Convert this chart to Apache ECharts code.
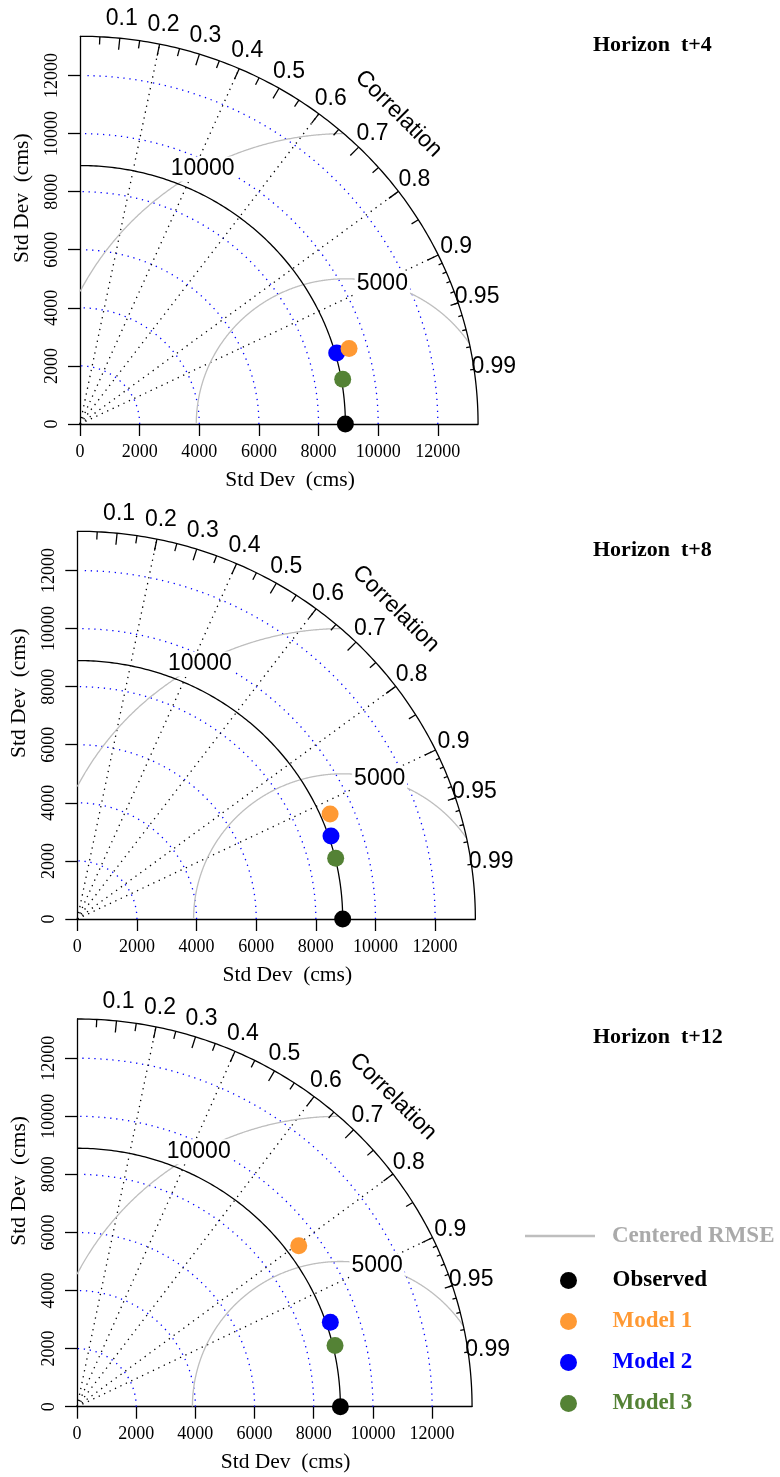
<!DOCTYPE html>
<html><head><meta charset="utf-8">
<script src="https://cdn.jsdelivr.net/npm/echarts@6/dist/echarts.min.js"></script>
<style>html,body{margin:0;padding:0;background:#fff}#c{width:780px;height:1477px}</style>
</head><body><div id="c"></div>
<script>
// ---------------- data ----------------
const panelTitles = ['Horizon  t+4', 'Horizon  t+8', 'Horizon  t+12'];
const modelNames = ['Model 1', 'Model 2', 'Model 3'];
const refSD = 8900;                       // observed standard deviation (cms)
const sdT4   = [9390, 8950, 8945];        // model std dev, horizon t+4
const corrT4 = [0.961, 0.962, 0.985];     // model correlation, horizon t+4
const sdT8   = [9215, 8975, 8915];
const corrT8 = [0.920, 0.948, 0.972];
const sdT12  = [9320, 9040, 8970];
const corrT12 = [0.804, 0.947, 0.972];
const sdTicks = [0, 2000, 4000, 6000, 8000, 10000, 12000];
const sdArcs = [2000, 4000, 6000, 8000, 10000, 12000];
const corrLabels = [0.1, 0.2, 0.3, 0.4, 0.5, 0.6, 0.7, 0.8, 0.9, 0.95, 0.99];
const bigTicks = [0.1, 0.2, 0.3, 0.4, 0.5, 0.6, 0.7, 0.8, 0.9];
const medTicks = [0.05, 0.15, 0.25, 0.35, 0.45, 0.55, 0.65, 0.75, 0.85, 0.95];
const smallTicks = [0.91, 0.92, 0.93, 0.94, 0.95, 0.96, 0.97, 0.98, 0.99];
const corrLines = [0.2, 0.4, 0.6, 0.8, 0.9];
const rmseLevels = [5000, 10000];
const panelSD = [sdT4, sdT8, sdT12];
const panelCorr = [corrT4, corrT8, corrT12];

// ---------------- style / layout ----------------
const maxSD = 1.5 * refSD;
const FS = '"Liberation Serif","Times New Roman",serif';
const FA = '"Liberation Sans",Arial,Helvetica,sans-serif';
const modelColors = ['#ff9933', '#0000ff', '#548235'];
const kx = 0.029817, ky = 0.029042;       // px per unit
const layout = [
  {ox: 80, oy: 424, ty: 45},
  {ox: 77.3, oy: 919, ty: 550},
  {ox: 74, oy: 1406.7, ty: 1037}
];

function polyArc(api, cx, r, a0, a1, step, filter) {
  const pts = [];
  for (let a = a0; a <= a1 + 1e-9; a += step) {
    const x = cx + r * Math.cos(a), y = r * Math.sin(a);
    if (!filter || filter(x, y)) pts.push(api.coord([x, y]));
  }
  return pts;
}

function frameBack(params, api) {
  if (params.dataIndex !== 0) return null;
  const ch = [];
  sdArcs.forEach(r => {
    ch.push({type: 'polyline', shape: {points: polyArc(api, 0, r, 0, 1.56, 0.01)},
      style: {stroke: '#0000ff', lineWidth: 1.3, lineDash: [1.3, 4.7], fill: null}});
  });
  corrLines.forEach(c => {
    const p0 = api.coord([0, 0]);
    const p1 = api.coord([maxSD * c, maxSD * Math.sqrt(1 - c * c)]);
    ch.push({type: 'line', shape: {x1: p0[0], y1: p0[1], x2: p1[0], y2: p1[1]},
      style: {stroke: '#000', lineWidth: 1.3, lineDash: [1.3, 4.7]}});
  });
  return {type: 'group', children: ch};
}

function rmseItem(params, api) {
  const g = api.value(0);
  const n = rmseLevels.length;
  const pts = polyArc(api, refSD, g, 0, Math.PI, 0.004, (x, y) => x >= 0 && x * x + y * y <= maxSD * maxSD);
  const idx = n > 1 ? 45 + (70 - 45) * params.dataIndex / (n - 1) : 45;
  const a = (idx - 1) * 0.03;
  const lp = api.coord([refSD + g * Math.cos(a), g * Math.sin(a)]);
  return {type: 'group', children: [
    {type: 'polyline', shape: {points: pts}, style: {stroke: '#bebebe', lineWidth: 1.3, fill: null}},
    {type: 'text', style: {text: String(g), x: lp[0], y: lp[1], align: 'center', verticalAlign: 'middle',
      fontSize: 23, fontFamily: FA, fill: '#000', backgroundColor: '#fff', padding: [1, 2]}}
  ]};
}

function frameFront(params, api) {
  if (params.dataIndex !== 0) return null;
  const ch = [];
  const outer = polyArc(api, 0, maxSD, 0, Math.PI / 2, 0.01);
  outer.push(api.coord([0, maxSD]));
  ch.push({type: 'polyline', shape: {points: outer}, style: {stroke: '#000', lineWidth: 1.3, fill: null}});
  const tick = (c, f) => {
    const s = Math.sqrt(1 - c * c);
    const p1 = api.coord([maxSD * c, maxSD * s]);
    const p2 = api.coord([f * maxSD * c, f * maxSD * s]);
    ch.push({type: 'line', shape: {x1: p1[0], y1: p1[1], x2: p2[0], y2: p2[1]}, style: {stroke: '#000', lineWidth: 1.3}});
  };
  bigTicks.forEach(c => tick(c, 0.97));
  medTicks.forEach(c => tick(c, 0.98));
  smallTicks.forEach(c => tick(c, 0.99));
  const ref = polyArc(api, 0, refSD, 0, Math.PI / 2, 0.01);
  ref.push(api.coord([0, refSD]));
  ch.push({type: 'polyline', shape: {points: ref}, style: {stroke: '#000', lineWidth: 1.3, fill: null}});
  corrLabels.forEach(c => {
    const p = api.coord([1.05 * maxSD * c, 1.05 * maxSD * Math.sqrt(1 - c * c)]);
    ch.push({type: 'text', style: {text: String(c), x: p[0], y: p[1], align: 'center', verticalAlign: 'middle',
      fontSize: 23, fontFamily: FA, fill: '#000'}});
  });
  const pc = api.coord([0.8 * maxSD, 0.8 * maxSD]);
  ch.push({type: 'text', x: pc[0], y: pc[1], rotation: -Math.PI / 4,
    style: {text: 'Correlation', x: 0, y: 0, align: 'center', verticalAlign: 'middle', fontSize: 23, fontFamily: FA, fill: '#000'}});
  return {type: 'group', children: ch};
}

const plainNum = v => String(Math.round(v));
const grid = [], xAxis = [], yAxis = [], series = [], title = [];
layout.forEach((L, i) => {
  const h = maxSD * ky, w = maxSD * kx;
  grid.push({left: L.ox, top: L.oy - h, width: w, height: h});
  title.push({text: panelTitles[i], left: 593, top: L.ty - 11, padding: 0,
    textStyle: {fontFamily: FS, fontWeight: 'bold', fontSize: 22, color: '#000'}});
  const axisCommon = {
    gridIndex: i, type: 'value', min: 0, max: maxSD,
    axisLine: {show: true, onZero: false, lineStyle: {color: '#000', width: 1.3}},
    axisTick: {show: true, length: 12, customValues: sdTicks, lineStyle: {color: '#000', width: 1.3}},
    splitLine: {show: false},
    nameLocation: 'middle'
  };
  xAxis.push(Object.assign({}, axisCommon, {
    axisLabel: {customValues: sdTicks, formatter: plainNum, margin: 19, fontSize: 18, fontFamily: FS, color: '#000'},
    name: 'Std Dev  (cms)', nameGap: 45,
    nameTextStyle: {fontFamily: FS, fontSize: 21.5, color: '#000', padding: [0, 0, 0, 22]}
  }));
  yAxis.push(Object.assign({}, axisCommon, {
    axisLabel: {customValues: sdTicks, formatter: plainNum, margin: 19, fontSize: 18, fontFamily: FS, color: '#000', rotate: 90},
    name: 'Std Dev  (cms)', nameGap: 47,
    nameTextStyle: {fontFamily: FS, fontSize: 21.5, color: '#000', padding: [0, 0, 0, 64]}
  }));
  series.push({type: 'custom', xAxisIndex: i, yAxisIndex: i, z: 1, silent: true,
    data: [[0, 0]], encode: {x: 0, y: 1}, renderItem: frameBack});
  series.push({type: 'custom', name: 'Centered RMSE', xAxisIndex: i, yAxisIndex: i, z: 2, silent: true,
    itemStyle: {color: '#bebebe'},
    data: rmseLevels.map(v => [v, 0]), encode: {x: 0, y: 1}, renderItem: rmseItem});
  series.push({type: 'custom', xAxisIndex: i, yAxisIndex: i, z: 3, silent: true,
    data: [[0, 0]], encode: {x: 0, y: 1}, renderItem: frameFront});
  series.push({type: 'scatter', name: 'Observed', xAxisIndex: i, yAxisIndex: i, z: 5, clip: false,
    symbol: 'circle', symbolSize: 17, itemStyle: {color: '#000', opacity: 1},
    data: [[refSD, 0]]});
  [2, 1, 0].forEach(m => {
    const sd = panelSD[i][m], r = panelCorr[i][m];
    series.push({type: 'scatter', name: modelNames[m], xAxisIndex: i, yAxisIndex: i, z: 6 + (2 - m), clip: false,
      symbol: 'circle', symbolSize: 17, itemStyle: {color: modelColors[m], opacity: 1},
      data: [[sd * r, sd * Math.sqrt(1 - r * r)]]});
  });
});

const option = {
  animation: false,
  backgroundColor: '#fff',
  title, grid, xAxis, yAxis, series,
  legend: [
    {data: [{name: 'Centered RMSE', icon: 'rect', itemStyle: {color: '#bebebe'}}],
     left: 525, top: 1224.5, padding: 0, itemWidth: 70, itemHeight: 2.5, selectedMode: false,
     textStyle: {fontFamily: FS, fontWeight: 'bold', fontSize: 23, color: '#aaaaaa', padding: [0, 0, 0, 12]}},
    {data: [
      {name: 'Observed', textStyle: {color: '#000'}},
      {name: 'Model 1', textStyle: {color: modelColors[0]}},
      {name: 'Model 2', textStyle: {color: modelColors[1]}},
      {name: 'Model 3', textStyle: {color: modelColors[2]}}],
     orient: 'vertical', left: 560, top: 1269, padding: 0, itemWidth: 78, itemHeight: 17, itemGap: 18,
     textStyle: {fontFamily: FS, fontWeight: 'bold', fontSize: 23}}
  ]
};
const chart = echarts.init(document.getElementById('c'), null, {renderer: 'canvas'});
chart.setOption(option);
</script></body></html>
